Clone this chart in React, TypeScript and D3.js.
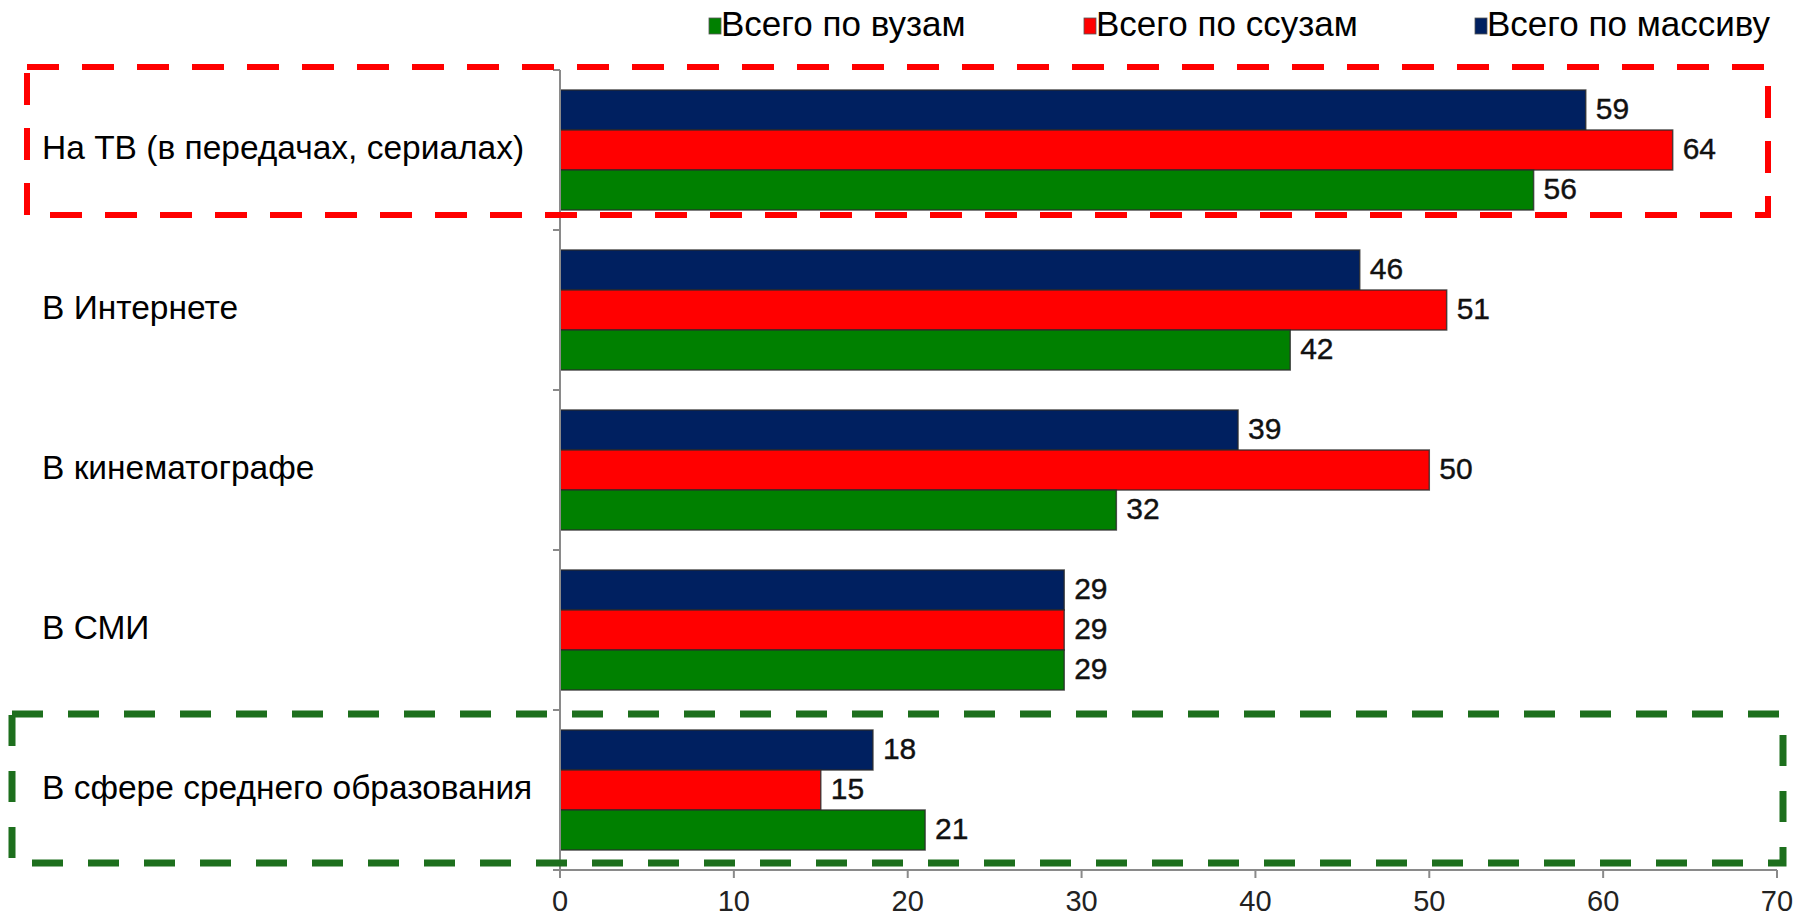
import React from 'react'
import * as d3 from 'd3'

// categories, top to bottom
const categories = [
  'На ТВ (в передачах, сериалах)',
  'В Интернете',
  'В кинематографе',
  'В СМИ',
  'В сфере среднего образования',
]

const seriesNames = ['Всего по массиву', 'Всего по ссузам', 'Всего по вузам']
const seriesColors = ['#002060', '#ff0000', '#008000']

const massiv = [59, 46, 39, 29, 18]
const ssuz = [64, 51, 50, 29, 15]
const vuz = [56, 42, 32, 29, 21]
const seriesValues = [massiv, ssuz, vuz]

const xTicks = [0, 10, 20, 30, 40, 50, 60, 70]

// legend order as drawn left to right
const legendOrder = [2, 1, 0]

const W = 1800
const H = 916
const margin = { top: 70, right: 22, bottom: 46, left: 560 }

export default function App() {
  const x = d3.scaleLinear().domain([0, 70]).range([margin.left, 1777])
  const y = d3
    .scaleBand<string>()
    .domain(categories)
    .range([margin.top, H - margin.bottom])
    .paddingInner(0.25)
    .paddingOuter(0.125)
  const step = y.step()
  const inner = d3
    .scaleBand<number>()
    .domain([0, 1, 2])
    .range([0, y.bandwidth()])

  const yBottom = H - margin.bottom
  const legendX = [709, 1084, 1475]
  const sans = '"Liberation Sans", Arial, sans-serif'
  const narrow = '"Liberation Sans Narrow", "Arial Narrow", "Liberation Sans", sans-serif'

  // category boundaries for little ticks on the vertical axis
  const boundaries = d3.range(categories.length + 1).map((i) => margin.top + i * step)

  return (
    <div style={{ position: 'fixed', left: 0, top: 0 }}>
      <svg width={W} height={H} style={{ display: 'block', background: '#fff' }}>
        {/* legend */}
        {legendOrder.map((si, i) => (
          <g key={si} transform={`translate(${legendX[i]},0)`}>
            <rect x={0} y={18} width={12} height={16} fill={seriesColors[si]} stroke="#555" strokeWidth={0.8} />
            <text x={12} y={27} dominantBaseline="middle" fontFamily={sans} fontSize={35} fill="#000">
              {seriesNames[si]}
            </text>
          </g>
        ))}

        {/* bars */}
        {categories.map((c, ci) => (
          <g key={c}>
            {seriesValues.map((vals, si) => {
              const by = (y(c) ?? 0) + (inner(si) ?? 0)
              const bh = inner.bandwidth()
              return (
                <g key={si}>
                  <rect
                    x={x(0)}
                    y={by}
                    width={x(vals[ci]) - x(0)}
                    height={bh}
                    fill={seriesColors[si]}
                    stroke="#2a2a2a"
                    strokeOpacity={0.8}
                    strokeWidth={1.5}
                  />
                  <text
                    x={x(vals[ci]) + 10}
                    y={by + bh / 2 + 1}
                    dominantBaseline="middle"
                    fontFamily={narrow}
                    fontSize={30}
                    fill="#111"
                    stroke="#111"
                    strokeWidth={0.4}
                  >
                    {vals[ci]}
                  </text>
                </g>
              )
            })}
            <text
              x={42}
              y={(y(c) ?? 0) + y.bandwidth() / 2}
              dominantBaseline="middle"
              fontFamily={sans}
              fontSize={33.5}
              fill="#000"
            >
              {c}
            </text>
          </g>
        ))}

        {/* axes */}
        <line x1={x(0)} x2={x(0)} y1={margin.top} y2={yBottom} stroke="#8a8a8a" strokeWidth={2} />
        {boundaries.map((b, i) => (
          <line key={i} x1={x(0) - 7} x2={x(0)} y1={b} y2={b} stroke="#8a8a8a" strokeWidth={2} />
        ))}
        <line x1={x(0)} x2={x(70)} y1={yBottom} y2={yBottom} stroke="#8a8a8a" strokeWidth={2} />
        {xTicks.map((t) => (
          <g key={t}>
            <line x1={x(t)} x2={x(t)} y1={yBottom} y2={yBottom + 8} stroke="#8a8a8a" strokeWidth={2} />
            <text
              x={x(t)}
              y={903}
              textAnchor="middle"
              dominantBaseline="middle"
              fontFamily={sans}
              fontSize={29}
              fill="#222"
            >
              {t}
            </text>
          </g>
        ))}

        {/* highlight boxes */}
        <rect
          x={27}
          y={67}
          width={1741}
          height={148}
          fill="none"
          stroke="#ff0000"
          strokeWidth={6}
          strokeDasharray="32 23"
        />
        <rect
          x={12}
          y={714}
          width={1771}
          height={149}
          fill="none"
          stroke="#1d6f1d"
          strokeWidth={7}
          strokeDasharray="31 25"
        />
      </svg>
    </div>
  )
}
